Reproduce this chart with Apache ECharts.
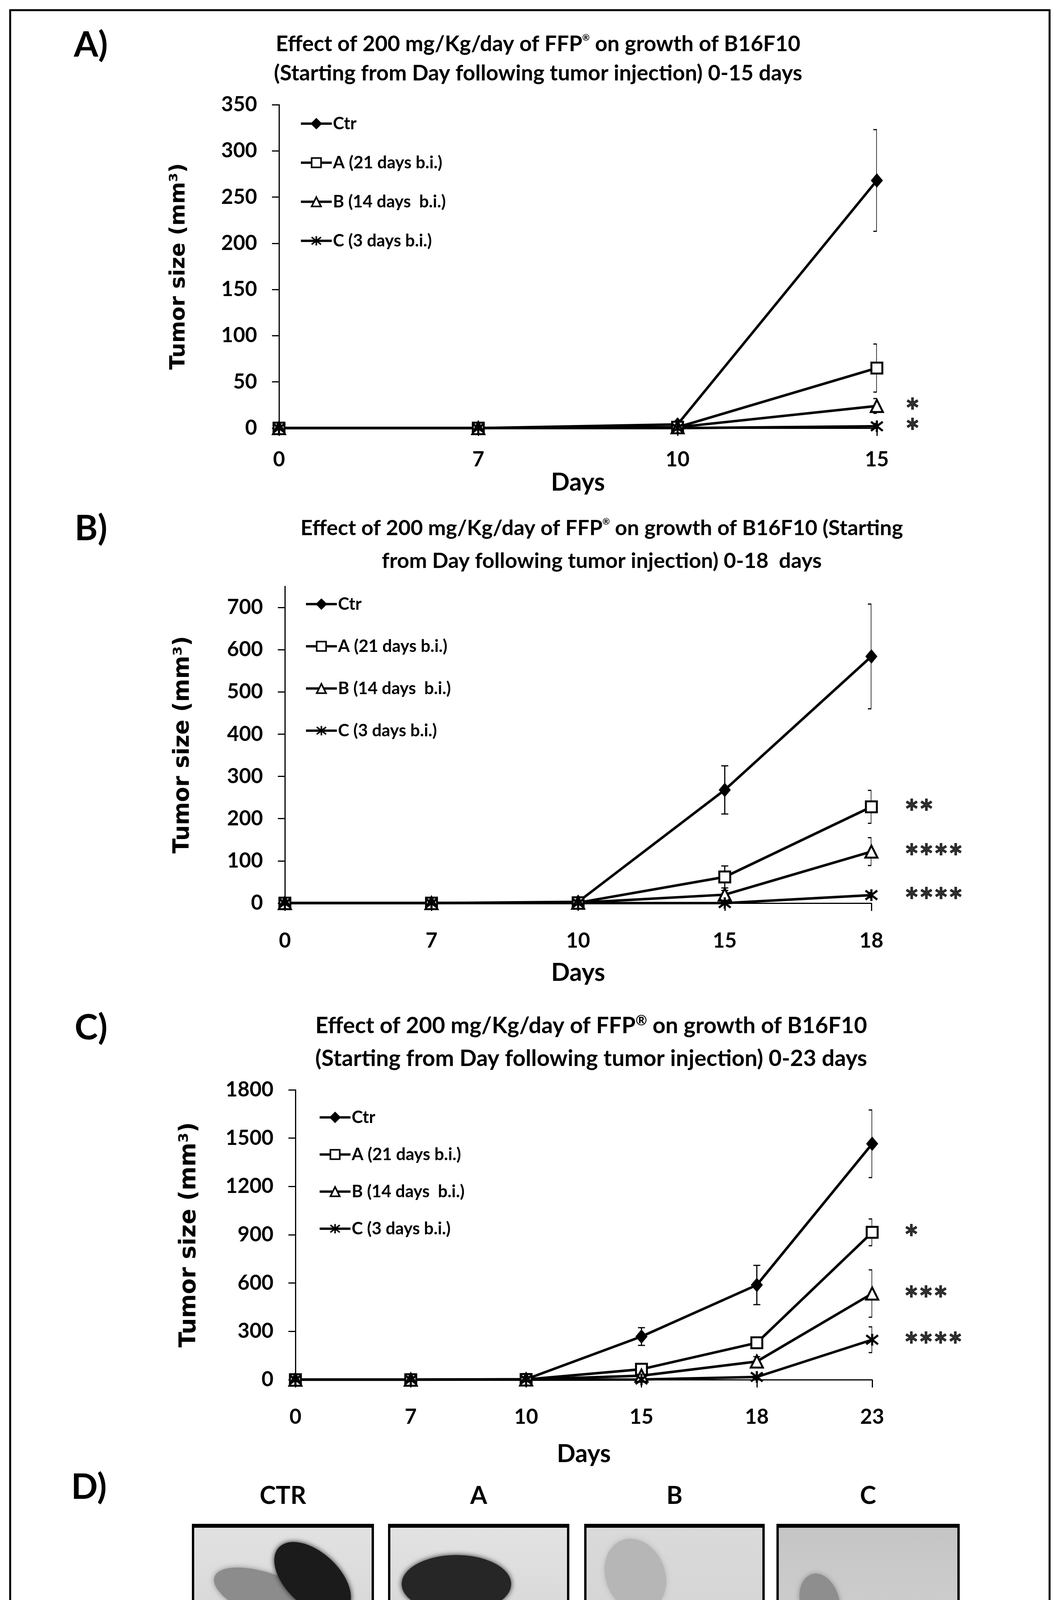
<!DOCTYPE html>
<html><head><meta charset="utf-8">
<script src="https://cdn.jsdelivr.net/npm/echarts@6/dist/echarts.min.js"></script>
<style>html,body{margin:0;padding:0;background:#fff}#c{width:2705px;height:4335px}</style>
</head><body><div id="c"></div>
<script>
// ---------- DATA ----------
const seriesNames = ['Ctr', 'A (21 days b.i.)', 'B (14 days  b.i.)', 'C (3 days b.i.)'];

// Panel A (0-15 days)
const A_days = ['0', '7', '10', '15'];
const A_ctr = [0, 0, 4, 268];
const A_grpA = [0, 0, 1, 65];
const A_grpB = [0, 0, 1, 24];
const A_grpC = [0, 0, 0, 2];
const A_ctrErr = [0, 0, 0, 55];
const A_grpAErr = [0, 0, 0, 26];
const A_grpBErr = [0, 0, 0, 8];
const A_grpCErr = [0, 0, 0, 3];
const A_yTicks = [0, 50, 100, 150, 200, 250, 300, 350];
const A_stars = ['', '', '*', '*'];

// Panel B (0-18 days)
const B_days = ['0', '7', '10', '15', '18'];
const B_ctr = [0, 0, 3, 268, 584];
const B_grpA = [0, 0, 1, 62, 228];
const B_grpB = [0, 0, 1, 20, 122];
const B_grpC = [0, 0, 0, 0, 19];
const B_ctrErr = [0, 0, 0, 57, 124];
const B_grpAErr = [0, 0, 0, 26, 39];
const B_grpBErr = [0, 0, 0, 10, 33];
const B_grpCErr = [0, 0, 0, 4, 6];
const B_yTicks = [0, 100, 200, 300, 400, 500, 600, 700];
const B_stars = ['', '**', '****', '****'];

// Panel C (0-23 days)
const C_days = ['0', '7', '10', '15', '18', '23'];
const C_ctr = [0, 0, 3, 268, 588, 1465];
const C_grpA = [0, 0, 1, 65, 229, 915];
const C_grpB = [0, 0, 1, 25, 113, 535];
const C_grpC = [0, 0, 0, 1, 17, 248];
const C_ctrErr = [0, 0, 0, 55, 122, 210];
const C_grpAErr = [0, 0, 0, 25, 32, 83];
const C_grpBErr = [0, 0, 0, 10, 30, 147];
const C_grpCErr = [0, 0, 0, 3, 10, 80];
const C_yTicks = [0, 300, 600, 900, 1200, 1500, 1800];
const C_stars = ['', '*', '***', '****'];

const D_labels = ['CTR', 'A', 'B', 'C'];

// ---------- LAYOUT ----------
const mctx = document.createElement('canvas').getContext('2d');
function fit(text, family, target) {
  mctx.font = 'bold 100px ' + family;
  return 100 * target / mctx.measureText(text).width;
}
function tw(text, family, size) {
  mctx.font = 'bold ' + size + 'px ' + family;
  return mctx.measureText(text).width;
}
const LATO = 'Lato';
const DJV = '"DejaVu Sans"';
const tickFs = fit('350', LATO, 92);
const legendFs = fit('A (21 days b.i.)', LATO, 280);
const daysFs = fit('Days', LATO, 138);
const starFs = fit('****', LATO, 150);

const panels = [
  {
    days: A_days, vals: [A_ctr, A_grpA, A_grpB, A_grpC], errs: [A_ctrErr, A_grpAErr, A_grpBErr, A_grpCErr],
    yTicks: A_yTicks, max: 350, interval: 50, stars: A_stars,
    grid: {left: 714, top: 268, width: 1530, height: 828},
    xLabelCy: 1177, daysCy: 1236, yNameCx: 458, yNameLen: 529,
    legend: {left: 767, top: 295, gap: 57}, starDist: 72,
    title: {cx: 1377, y1: 113, y2: 188, pre: 'Effect of 200 mg/Kg/day of FFP', post: ' on growth of B16F10',
            line2: '(Starting from Day following tumor injection) 0-15 days', w1: 1320, w2: 1368, sup: 0.42},
    letter: {t: 'A)', x: 189, cy: 116}
  },
  {
    days: B_days, vals: [B_ctr, B_grpA, B_grpB, B_grpC], errs: [B_ctrErr, B_grpAErr, B_grpBErr, B_grpCErr],
    yTicks: B_yTicks, max: 750, interval: 100, stars: B_stars,
    grid: {left: 729, top: 1501, width: 1501, height: 811},
    xLabelCy: 2409, daysCy: 2491, yNameCx: 468, yNameLen: 557,
    legend: {left: 780, top: 1525, gap: 65}, starDist: 84,
    title: {cx: 1540, y1: 1352, y2: 1436, pre: 'Effect of 200 mg/Kg/day of FFP', post: ' on growth of B16F10 (Starting',
            line2: 'from Day following tumor injection) 0-18  days', w1: 1534, w2: 1127, sup: 0.42},
    letter: {t: 'B)', x: 191, cy: 1354}
  },
  {
    days: C_days, vals: [C_ctr, C_grpA, C_grpB, C_grpC], errs: [C_ctrErr, C_grpAErr, C_grpBErr, C_grpCErr],
    yTicks: C_yTicks, max: 1800, interval: 300, stars: C_stars,
    grid: {left: 756, top: 2790, width: 1476, height: 742},
    xLabelCy: 3628, daysCy: 3723, yNameCx: 485, yNameLen: 577,
    legend: {left: 815, top: 2839, gap: 52}, starDist: 81,
    title: {cx: 1513, y1: 2626, y2: 2710, pre: 'Effect of 200 mg/Kg/day of FFP', post: ' on growth of B16F10',
            line2: '(Starting from Day following tumor injection) 0-23 days', w1: 1378, w2: 1430, sup: 0.62},
    letter: {t: 'C)', x: 191, cy: 2632}
  }
];

const symbols = ['diamond', 'rect', 'triangle', 'path://M0,0L10,10M10,0L0,10M5,-1.5L5,11.5'];
const symSizes = [[31, 37], 28, 31, 30];
const symFill = ['#000', '#fff', '#fff', 'none'];
const symBorder = [0, 5, 5, 5.5];

const grids = [], xAxes = [], yAxes = [], series = [], legends = [], graphics = [];

function gtext(x, y, text, size, align, family) {
  return {type: 'text', x: x, y: y, z: 10, style: {text: text, fill: '#000', fontSize: size, fontFamily: family || LATO,
          fontWeight: 'bold', align: align || 'left', verticalAlign: 'middle'}};
}

panels.forEach((p, k) => {
  grids.push(Object.assign({containLabel: false}, p.grid));
  const axisY = p.grid.top + p.grid.height;
  xAxes.push({
    type: 'category', gridIndex: k, data: p.days, boundaryGap: false,
    axisLine: {show: true, lineStyle: {color: '#000', width: 3}},
    axisTick: {show: true, length: 20, lineStyle: {color: '#000', width: 3}},
    axisLabel: {color: '#000', fontFamily: LATO, fontWeight: 'bold', fontSize: tickFs,
                margin: p.xLabelCy - axisY - tickFs / 2},
    splitLine: {show: false},
    name: 'Days', nameLocation: 'middle', nameGap: p.daysCy - axisY - daysFs / 2,
    nameTextStyle: {color: '#000', fontFamily: LATO, fontWeight: 'bold', fontSize: daysFs}
  });
  const yNameFs = fit('Tumor size (mm³)', DJV, p.yNameLen);
  const ticks = p.yTicks;
  yAxes.push({
    type: 'value', gridIndex: k, min: 0, max: p.max, interval: p.interval,
    axisLine: {show: true, lineStyle: {color: '#000', width: 3}},
    axisTick: {show: true, length: 18, lineStyle: {color: '#000', width: 3}, customValues: ticks},
    axisLabel: {color: '#000', fontFamily: LATO, fontWeight: 'bold', fontSize: tickFs, margin: 56,
                customValues: ticks, formatter: v => (ticks.indexOf(v) >= 0 ? String(v) : '')},
    splitLine: {show: false},
    name: 'Tumor size (mm³)', nameLocation: 'middle', nameRotate: 90,
    nameGap: p.grid.left - p.yNameCx - yNameFs / 2,
    nameTextStyle: {color: '#000', fontFamily: DJV, fontWeight: 'bold', fontSize: yNameFs}
  });

  p.vals.forEach((vals, s) => {
    // error bars
    series.push({
      type: 'custom', name: 'err' + k + s, xAxisIndex: k, yAxisIndex: k, z: 1, clip: true, silent: true,
      data: vals.map((v, i) => [i, v, p.errs[s][i]]),
      encode: {x: 0, y: 1},
      renderItem: function (params, api) {
        const e = api.value(2);
        if (!e) return null;
        const x = api.value(0), y = api.value(1);
        const t = api.coord([x, y + e]), b = api.coord([x, y - e]);
        const hw = 9, st = {stroke: '#000', lineWidth: 3};
        return {type: 'group', children: [
          {type: 'line', shape: {x1: t[0], y1: t[1], x2: b[0], y2: b[1]}, style: st},
          {type: 'line', shape: {x1: t[0] - hw, y1: t[1], x2: t[0] + hw, y2: t[1]}, style: st},
          {type: 'line', shape: {x1: b[0] - hw, y1: b[1], x2: b[0] + hw, y2: b[1]}, style: st}
        ]};
      }
    });
    // main line
    series.push({
      type: 'line', name: seriesNames[s], xAxisIndex: k, yAxisIndex: k, z: 3,
      data: vals, symbol: symbols[s], symbolSize: symSizes[s], showSymbol: true, showAllSymbol: true,
      lineStyle: {color: '#000', width: 6.5},
      itemStyle: {color: symFill[s], borderColor: '#000', borderWidth: symBorder[s]},
      emphasis: {disabled: true}
    });
    // significance stars
    if (p.stars[s]) {
      const last = vals.length - 1;
      series.push({
        type: 'scatter', name: 'star' + k + s, xAxisIndex: k, yAxisIndex: k, z: 4, clip: false, silent: true,
        data: [[last, vals[last]]], symbolSize: 1, itemStyle: {color: 'rgba(0,0,0,0)'},
        label: {show: true, position: 'right', distance: p.starDist, formatter: p.stars[s],
                color: '#000', fontFamily: LATO, fontWeight: 'bold', fontSize: starFs, offset: [0, starFs * 0.2],
                textBorderColor: '#000', textBorderWidth: 1.5}
      });
    }
  });

  legends.push({
    data: seriesNames, orient: 'vertical', left: p.legend.left, top: p.legend.top,
    itemWidth: 79, itemHeight: 30, itemGap: p.legend.gap, padding: 0, selectedMode: false,
    lineStyle: {width: 6, color: '#000'}, itemStyle: {borderWidth: 4},
    textStyle: {color: '#000', fontFamily: LATO, fontWeight: 'bold', fontSize: legendFs, padding: [0, 0, 0, -2]}
  });

  // title
  const t = p.title;
  const fsT = (fit(t.pre + t.post, LATO, t.w1 - 12) + fit(t.line2, LATO, t.w2)) / 2;
  const supFs = fsT * t.sup;
  const wPre = tw(t.pre, LATO, fsT), wSup = tw('®', LATO, supFs), wPost = tw(t.post, LATO, fsT);
  const x0 = t.cx - (wPre + wSup + wPost) / 2;
  graphics.push(gtext(x0, t.y1, t.pre, fsT, 'left'));
  graphics.push(gtext(x0 + wPre, t.y1 - fsT * (t.sup > 0.5 ? 0.22 : 0.3), '®', supFs, 'left'));
  graphics.push(gtext(x0 + wPre + wSup, t.y1, t.post, fsT, 'left'));
  graphics.push(gtext(t.cx, t.y2, t.line2, fsT, 'center'));
  // panel letter
  graphics.push(gtext(p.letter.x, p.letter.cy, p.letter.t, fit('A)', LATO, 87), 'left'));
});

// ---------- PANEL D (photo frames, drawn schematically) ----------
graphics.push(gtext(182, 3808, 'D)', fit('A)', LATO, 87), 'left'));
const frames = [
  {x: 494, w: 460, bg: '#e2e2e2'},
  {x: 996, w: 458, bg: '#e3e3e3'},
  {x: 1498, w: 456, bg: '#dadada'},
  {x: 1990, w: 463, bg: '#c5c5c5'}
];
const fTop = 3904, fBot = 4260;
const dLabelFs = fit('CTR', LATO, 119);
frames.forEach((f, i) => {
  graphics.push(gtext(f.x + f.w / 2, 3830, D_labels[i], dLabelFs, 'center'));
  graphics.push({type: 'rect', z: 1, shape: {x: f.x, y: fTop, width: f.w, height: fBot - fTop},
    style: {fill: new echarts.graphic.LinearGradient(0, 0, 0, 1, [{offset: 0, color: f.bg}, {offset: 1, color: '#d2d2d2'}])}});
  // ruler
  const rx = f.x + 32, ry = 4178;
  graphics.push({type: 'polygon', z: 2, shape: {points: [[rx, fBot], [rx, ry + 40], [rx + 40, ry], [f.x + f.w, ry - 4], [f.x + f.w, fBot]]},
    style: {fill: '#bcbcbc', stroke: '#8a8a8a', lineWidth: 2}});
  const ticks = [];
  for (let tx = rx + 22, n = 0; tx < f.x + f.w - 4; tx += 18, n++) {
    ticks.push({type: 'line', z: 3, shape: {x1: tx, y1: ry + 18, x2: tx, y2: n % 5 === 0 ? fBot : ry + 66},
      style: {stroke: '#333', lineWidth: 2}});
  }
  graphics.push({type: 'group', children: ticks});
  graphics.push({type: 'rect', z: 5, shape: {x: f.x, y: fTop, width: f.w, height: fBot - fTop},
    style: {fill: 'none', stroke: '#000', lineWidth: 6}});
  graphics.push({type: 'line', z: 5, shape: {x1: f.x - 3, y1: fTop + 2, x2: f.x + f.w + 3, y2: fTop + 2}, style: {stroke: '#000', lineWidth: 10}});
  graphics.push({type: 'line', z: 5, shape: {x1: f.x - 3, y1: fBot, x2: f.x + f.w + 3, y2: fBot}, style: {stroke: '#000', lineWidth: 9}});
});
function blob(cx, cy, rx, ry, rot, color) {
  return {type: 'ellipse', z: 4, x: cx, y: cy, rotation: rot, shape: {cx: 0, cy: 0, rx: rx, ry: ry},
    style: {fill: color, shadowBlur: 14, shadowColor: color}};
}
graphics.push(blob(690, 4088, 150, 58, -0.35, '#8c8c8c'));
graphics.push(blob(800, 4042, 118, 68, -0.75, '#1b1b1b'));
graphics.push(blob(1168, 4055, 140, 74, 0, '#262626'));
graphics.push(blob(1626, 4033, 96, 76, -1.2, '#b6b6b6'));
graphics.push(blob(2098, 4101, 74, 50, -1.3, '#8e8e8e'));

// outer border
graphics.push({type: 'rect', z: 0, shape: {x: 26, y: 26, width: 2660, height: 4272}, style: {fill: 'none', stroke: '#000', lineWidth: 5}});
graphics.push({type: 'line', z: 0, shape: {x1: 24, y1: 4299, x2: 2689, y2: 4299}, style: {stroke: '#222', lineWidth: 9}});

const chart = echarts.init(document.getElementById('c'), null, {renderer: 'canvas', width: 2705, height: 4335});
chart.setOption({
  backgroundColor: '#fff',
  animation: false,
  grid: grids, xAxis: xAxes, yAxis: yAxes, legend: legends, series: series,
  graphic: {elements: graphics}
});
</script></body></html>
